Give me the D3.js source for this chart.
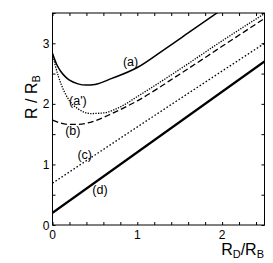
<!DOCTYPE html>
<html>
<head>
<meta charset="utf-8">
<script src="https://cdn.jsdelivr.net/npm/d3@7"></script>
<style>
  body { margin: 0; background: #fff; }
  text { font-family: "Liberation Sans", Arial, sans-serif; fill: #000; }
</style>
</head>
<body>
<svg id="chart" width="273" height="263"></svg>
<script>
// curve values (x = RD/RB, y = R/RB)
const aX = [0, 0.05, 0.1, 0.15, 0.2, 0.3, 0.4, 0.5, 0.7, 1.0, 1.3, 1.6, 2.0];
const aY = [2.83, 2.65, 2.53, 2.45, 2.39, 2.33, 2.31, 2.32, 2.42, 2.6, 2.88, 3.17, 3.56];
const apX = [0, 0.03, 0.07, 0.1, 0.15, 0.2, 0.3, 0.45, 0.6, 0.8, 1.0, 1.5, 2.0, 2.5];
const apY = [2.83, 2.65, 2.45, 2.33, 2.17, 2.05, 1.92, 1.84, 1.85, 1.95, 2.12, 2.57, 3.04, 3.49];
const bX = [0, 0.1, 0.2, 0.3, 0.5, 0.7, 1.0, 1.5, 2.0, 2.5];
const bY = [1.73, 1.68, 1.66, 1.66, 1.72, 1.84, 2.05, 2.49, 2.95, 3.41];
const cX = [0, 1.25, 2.5];
const cY = [0.69, 1.85, 3.0];
const dX = [0, 2.5];
const dY = [0.2, 2.7];

const xTicks = [0, 1, 2];
const yTicks = [0, 1, 2, 3];

const labels = [
  {t: "(a)", x: 0.92, y: 2.69},
  {t: "(a')", x: 0.3, y: 2.06},
  {t: "(b)", x: 0.24, y: 1.55},
  {t: "(c)", x: 0.38, y: 1.16},
  {t: "(d)", x: 0.56, y: 0.58}
];

const svg = d3.select('#chart');
const x = d3.scaleLinear().domain([0, 2.5]).range([52.5, 264.5]);
const y = d3.scaleLinear().domain([0, 3.5]).range([225, 13]);

svg.append('clipPath').attr('id', 'clip')
  .append('rect')
  .attr('x', x(0)).attr('y', y(3.5))
  .attr('width', x(2.5) - x(0)).attr('height', y(0) - y(3.5));

const line = d3.line().x(d => x(d[0])).y(d => y(d[1])).curve(d3.curveMonotoneX);
const zip = (xs, ys) => xs.map((v, i) => [v, ys[i]]);

const series = [
  {d: zip(aX, aY), w: 1.5, dash: null},
  {d: zip(apX, apY), w: 1.3, dash: '1.3,1.3'},
  {d: zip(bX, bY), w: 1.3, dash: '6,3'},
  {d: zip(cX, cY), w: 1.3, dash: '1.6,2'},
  {d: zip(dX, dY), w: 2.4, dash: null}
];

const g = svg.append('g').attr('clip-path', 'url(#clip)');
series.forEach(s => {
  g.append('path')
    .attr('d', line(s.d))
    .attr('fill', 'none')
    .attr('stroke', '#000')
    .attr('stroke-width', s.w)
    .attr('stroke-dasharray', s.dash);
});

// inward ticks on all four sides
const tickLen = 3;
const xMinor = d3.range(0, 2.51, 0.2);
const yMinor = d3.range(0, 3.51, 0.5);
const axisBottom = d3.axisBottom(x).tickValues(xMinor).tickSize(-tickLen).tickFormat('');
const axisTop = d3.axisTop(x).tickValues(xMinor).tickSize(-tickLen).tickFormat('');
const axisLeft = d3.axisLeft(y).tickValues(yMinor).tickSize(-tickLen).tickFormat('');
const axisRight = d3.axisRight(y).tickValues(yMinor).tickSize(-tickLen).tickFormat('');

[[axisBottom, `translate(0,${y(0)})`], [axisTop, `translate(0,${y(3.5)})`],
 [axisLeft, `translate(${x(0)},0)`], [axisRight, `translate(${x(2.5)},0)`]].forEach(([ax, tr]) => {
  const a = svg.append('g').attr('transform', tr).call(ax);
  a.select('.domain').remove();
  a.selectAll('line').attr('stroke', '#000');
});

svg.append('rect')
  .attr('x', x(0)).attr('y', y(3.5))
  .attr('width', x(2.5) - x(0)).attr('height', y(0) - y(3.5))
  .attr('fill', 'none').attr('stroke', '#000').attr('stroke-width', 1);

// tick labels
svg.selectAll('.xl').data(xTicks).enter().append('text')
  .attr('x', d => x(d)).attr('y', 238.5)
  .attr('text-anchor', 'middle').attr('font-size', 12)
  .text(d => d);
svg.selectAll('.yl').data(yTicks).enter().append('text')
  .attr('x', 49.5).attr('y', d => y(d) + 4.5)
  .attr('text-anchor', 'end').attr('font-size', 12)
  .text(d => d);

// curve labels, centred on the read position
svg.selectAll('.cl').data(labels).enter().append('text')
  .attr('x', d => x(d.x)).attr('y', d => y(d.y))
  .attr('dy', '0.35em')
  .attr('text-anchor', 'middle').attr('font-size', 12.5)
  .text(d => d.t);

// axis titles
const xt = svg.append('text').attr('x', 264).attr('y', 255)
  .attr('text-anchor', 'end').attr('font-size', 16);
xt.append('tspan').text('R');
xt.append('tspan').attr('font-size', 11).attr('dy', 3).text('D');
xt.append('tspan').attr('dy', -3).text('/R');
xt.append('tspan').attr('font-size', 11).attr('dy', 3).text('B');

const yt = svg.append('text')
  .attr('transform', `translate(37,97) rotate(-90)`)
  .attr('text-anchor', 'middle').attr('font-size', 16);
yt.append('tspan').text('R / R');
yt.append('tspan').attr('font-size', 11).attr('dy', 3).text('B');
</script>
</body>
</html>
